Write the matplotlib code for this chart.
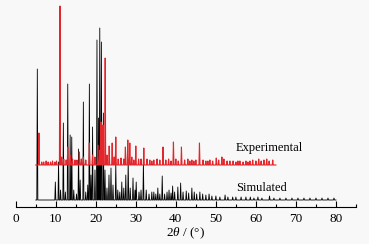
import matplotlib.pyplot as plt
import numpy as np

# simulated pattern: peak positions (2theta) and heights
sim_pos = [5.4, 9.9, 10.7, 11.2, 11.9, 12.4, 13.0, 13.6, 14.0, 14.5, 15.2, 15.7, 16.1,
           16.9, 17.5, 18.0, 18.4, 18.8, 19.2, 19.8, 20.3, 20.7, 21.0, 21.4, 21.9, 22.3,
           22.8, 23.3, 23.8, 24.3, 25.0, 25.5, 26.0, 26.5, 27.0, 27.5, 28.1, 28.6, 29.3,
           29.8, 30.1, 30.8, 31.3, 31.9, 32.6, 33.3, 34.0, 34.5, 35.0, 35.5, 36.0, 36.6,
           37.2, 37.8, 38.3, 38.8, 39.2, 39.7, 40.5, 41.2, 41.8, 42.6, 43.2, 44.0, 44.6,
           45.2, 46.0, 46.7, 47.5, 48.3, 49.0, 50.0, 51.0, 52.3, 53.0, 54.2, 55.0, 56.3,
           57.5, 58.6, 59.5, 60.5, 61.5, 63.4, 64.5, 66.0, 67.5, 69.0, 70.5, 72.0, 73.5,
           75.0, 76.5, 78.0, 79.5]
sim_h = [131, 18, 38, 10, 77, 8, 116, 65, 63, 10, 6, 51, 20,
         98, 8, 15, 116, 25, 73, 30, 160, 82, 172, 158, 87, 30,
         12, 25, 32, 15, 37, 10, 8, 18, 12, 25, 40, 12, 22,
         10, 18, 8, 10, 38, 10, 6, 8, 8, 6, 12, 6, 24,
         6, 8, 10, 7, 14, 8, 13, 17, 8, 9, 7, 12, 8,
         6, 8, 6, 5, 6, 4, 4, 3, 5, 3, 3, 3, 3,
         3, 3, 2, 3, 2, 4, 2, 2, 2, 2, 2, 2, 2,
         2, 2, 2, 2]

# experimental pattern
exp_pos = [5.8, 6.5, 7.0, 7.6, 8.1, 8.7, 9.2, 9.8, 10.2, 11.05, 11.5, 12.0, 12.6, 13.0,
           13.7, 14.2, 14.8, 15.3, 15.9, 16.4, 16.9, 17.5, 18.4, 19.2, 19.8, 20.5, 21.0,
           21.3, 21.8, 22.35, 22.8, 23.35, 24.1, 24.6, 25.0, 25.6, 26.3, 27.0, 27.4, 28.0,
           28.5, 29.0, 29.5, 30.0, 30.7, 31.3, 32.0, 32.8, 33.5, 34.0, 34.5, 35.3, 36.0,
           36.8, 37.5, 38.2, 38.8, 39.4, 40.0, 40.6, 41.4, 42.2, 43.0, 43.5, 44.0, 44.5,
           45.0, 45.9, 46.8, 47.5, 48.0, 48.5, 49.2, 50.1, 50.7, 51.5, 52.0, 52.8, 53.5,
           54.3, 55.0, 55.5, 56.0, 56.8, 57.5, 58.0, 58.5, 59.2, 60.0, 60.7, 61.3, 62.0,
           62.7, 63.3, 64.2]
exp_h = [32, 3, 3, 4, 3, 3, 4, 3, 4, 159, 8, 6, 5, 18,
         10, 6, 5, 5, 13, 6, 8, 5, 22, 10, 8, 20, 15,
         43, 40, 107, 10, 19, 22, 8, 28, 6, 7, 6, 18, 25,
         22, 8, 5, 19, 6, 6, 17, 6, 5, 4, 5, 6, 5,
         18, 5, 6, 4, 23, 6, 4, 18, 5, 6, 4, 5, 4,
         5, 22, 5, 4, 4, 5, 4, 7, 5, 8, 6, 4, 4,
         4, 3, 4, 4, 3, 4, 3, 4, 5, 4, 6, 4, 5,
         6, 4, 5]

exp_offset = 35
labels = ['Simulated', 'Experimental']


def trace(pos, h, start, end, hw=0.13):
    xs, ys = [start], [0]
    for p, v in sorted(zip(pos, h)):
        xs += [p - hw, p, p + hw]
        ys += [0, v, 0]
    xs.append(end)
    ys.append(0)
    return np.array(xs), np.array(ys)


plt.rcParams['font.family'] = ['Liberation Serif', 'DejaVu Serif']
plt.rcParams['mathtext.fontset'] = 'custom'
plt.rcParams['mathtext.rm'] = 'Liberation Serif'
plt.rcParams['mathtext.it'] = 'Liberation Serif:italic'

fig = plt.figure(figsize=(3.69, 2.44), dpi=100, facecolor='#f8f8f8')
ax = fig.add_axes([15.7 / 369, 37 / 244, 340.3 / 369, 204 / 244])
ax.set_facecolor('#f8f8f8')

x, y = trace(sim_pos, sim_h, 5.0, 80.0)
ax.plot(x, y, color='black', lw=0.6)
x, y = trace(exp_pos, exp_h, 5.0, 65.0)
ax.plot(x, y + exp_offset, color='#e3262b', lw=0.8)

ax.text(55, 12, labels[0], fontsize=9, va='center')
ax.text(55, 52, labels[1], fontsize=9, va='center')

ax.set_xlim(0, 85)
ax.set_ylim(-7, 197)
ax.set_xticks(np.arange(0, 81, 10))
ax.set_xticks(np.arange(5, 86, 5), minor=True)
ax.tick_params(axis='x', which='major', direction='in', length=4, width=0.8,
               labelsize=9.5, pad=4)
ax.tick_params(axis='x', which='minor', direction='in', length=2.5, width=0.8)
ax.set_yticks([])
for s in ['left', 'right', 'top']:
    ax.spines[s].set_visible(False)
ax.spines['bottom'].set_linewidth(0.8)
ax.set_xlabel(r'2$\theta$ / (°)', fontsize=9.5, labelpad=1)

plt.savefig('out.png', dpi=100, facecolor=fig.get_facecolor())
